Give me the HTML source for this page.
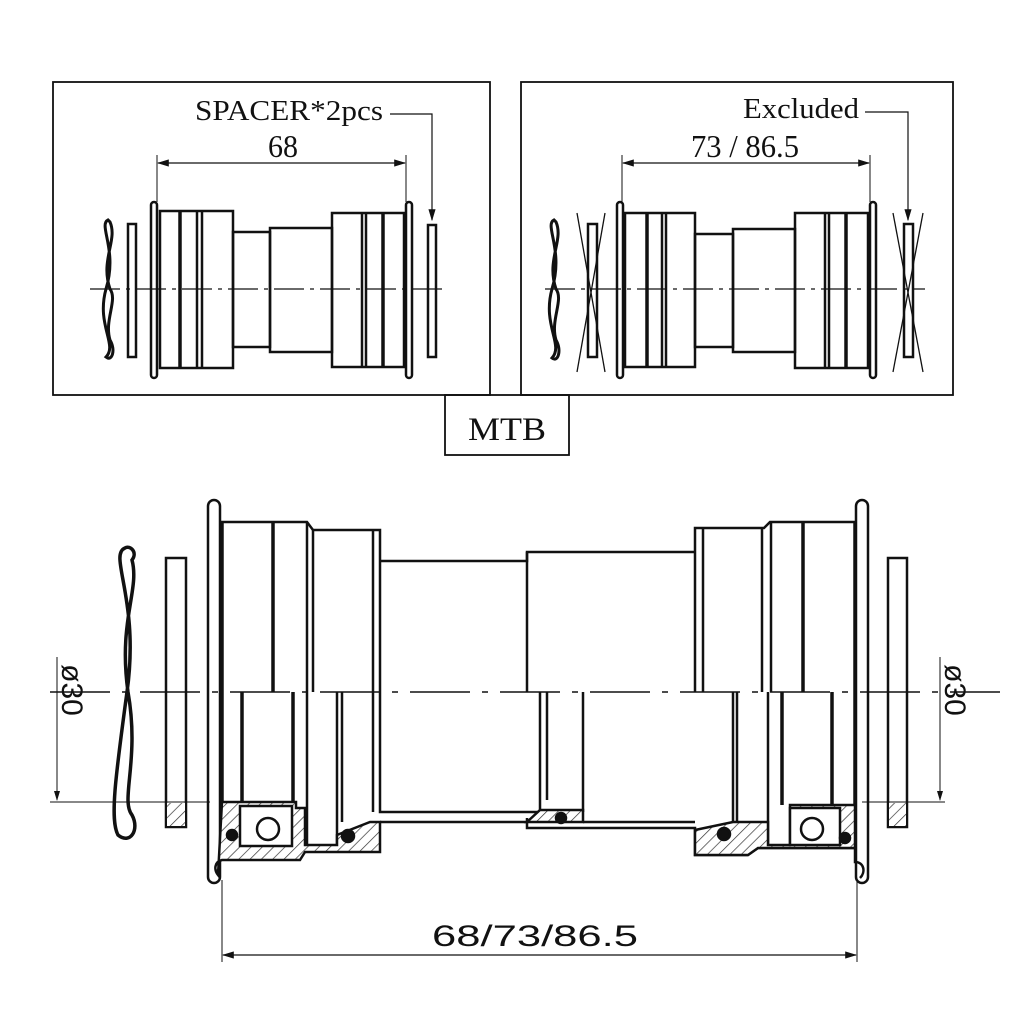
<!DOCTYPE html>
<html><head><meta charset="utf-8"><style>
html,body{margin:0;padding:0;background:#fff}
svg{display:block}
text{font-family:"Liberation Serif",serif;fill:#111}
</style></head><body>
<svg width="1024" height="1024" viewBox="0 0 1024 1024" xmlns="http://www.w3.org/2000/svg">
<defs>
<pattern id="h" width="8" height="8" patternUnits="userSpaceOnUse" patternTransform="rotate(45)">
<rect width="8" height="8" fill="#fff"/><line x1="0" y1="0" x2="0" y2="8" stroke="#333" stroke-width="1.4"/></pattern>
<marker id="a" markerWidth="10" markerHeight="6" refX="9" refY="3" orient="auto"><path d="M0,0 L10,3 L0,6 Z" fill="#111"/></marker>
</defs>
<g fill="none" stroke="#111" stroke-width="2.5">
<!-- frames -->
<rect x="53" y="82" width="437" height="313" stroke-width="1.8"/>
<rect x="521" y="82" width="432" height="313" stroke-width="1.8"/>
<rect x="445" y="395" width="124" height="60" stroke-width="1.8"/>

<!-- TOP LEFT -->
<line x1="90" y1="289" x2="448" y2="289" stroke-width="1.2" stroke-dasharray="30,6,4,6"/>
<path d="M108,220 C98,225 118,250 106,289 C96,325 118,345 106,357 C112,362 116,350 110,340 C104,320 118,300 110,289 C100,260 118,240 110,222 Z" stroke-width="3"/>
<rect x="128" y="224" width="8" height="133"/>
<rect x="428" y="225" width="8" height="132"/>
<rect x="151" y="202" width="6" height="176" rx="3"/>
<rect x="406" y="202" width="6" height="176" rx="3"/>
<rect x="160" y="211" width="73" height="157"/>
<line x1="180" y1="211" x2="180" y2="368" stroke-width="3.5"/><line x1="197" y1="211" x2="197" y2="368"/><line x1="202" y1="211" x2="202" y2="368"/>
<rect x="233" y="232" width="37" height="115"/>
<rect x="270" y="228" width="62" height="124"/>
<rect x="332" y="213" width="72" height="154"/>
<line x1="362" y1="213" x2="362" y2="367"/><line x1="366" y1="213" x2="366" y2="367"/><line x1="383" y1="213" x2="383" y2="367" stroke-width="3.5"/>
<line x1="157" y1="155" x2="157" y2="202" stroke-width="1"/><line x1="406" y1="155" x2="406" y2="202" stroke-width="1"/>
<line x1="180" y1="163" x2="158" y2="163" stroke-width="1.2" marker-end="url(#a)"/>
<line x1="180" y1="163" x2="405" y2="163" stroke-width="1.2" marker-end="url(#a)"/>
<path d="M390,114 L432,114 L432,220" stroke-width="1.2" marker-end="url(#a)"/>

<!-- TOP RIGHT -->
<line x1="545" y1="289" x2="925" y2="289" stroke-width="1.2" stroke-dasharray="30,6,4,6"/>
<path d="M554,220 C544,225 564,250 552,289 C542,325 564,345 552,358 C558,363 562,350 556,340 C550,320 564,300 556,289 C546,260 564,240 556,222 Z" stroke-width="3"/>
<rect x="588" y="224" width="9" height="133"/>
<line x1="577" y1="213" x2="605" y2="372" stroke-width="1.3"/><line x1="605" y1="213" x2="577" y2="372" stroke-width="1.3"/>
<rect x="904" y="224" width="9" height="133"/>
<line x1="893" y1="213" x2="923" y2="372" stroke-width="1.3"/><line x1="923" y1="213" x2="893" y2="372" stroke-width="1.3"/>
<rect x="617" y="202" width="6" height="176" rx="3"/>
<rect x="870" y="202" width="6" height="176" rx="3"/>
<rect x="625" y="213" width="70" height="154"/>
<line x1="647" y1="213" x2="647" y2="367" stroke-width="3.5"/><line x1="662" y1="213" x2="662" y2="367"/><line x1="666" y1="213" x2="666" y2="367"/>
<rect x="695" y="234" width="38" height="113"/>
<rect x="733" y="229" width="62" height="123"/>
<rect x="795" y="213" width="73" height="155"/>
<line x1="825" y1="213" x2="825" y2="368"/><line x1="829" y1="213" x2="829" y2="368"/><line x1="846" y1="213" x2="846" y2="368" stroke-width="3.5"/>
<line x1="622" y1="155" x2="622" y2="202" stroke-width="1"/><line x1="870" y1="155" x2="870" y2="202" stroke-width="1"/>
<line x1="640" y1="163" x2="623" y2="163" stroke-width="1.2" marker-end="url(#a)"/>
<line x1="640" y1="163" x2="869" y2="163" stroke-width="1.2" marker-end="url(#a)"/>
<path d="M865,112 L908,112 L908,220" stroke-width="1.2" marker-end="url(#a)"/>

<!-- BOTTOM -->
<line x1="50" y1="692" x2="1000" y2="692" stroke-width="1.5" stroke-dasharray="60,12,6,12"/>
<path d="M125,548 C108,555 140,600 127,692 C115,780 110,820 118,835 C130,845 140,830 132,815 C120,800 140,760 128,692 C118,620 140,590 132,560 C138,552 130,545 125,548 Z" stroke-width="3.5"/>
<rect x="166" y="558" width="20" height="269"/>
<rect x="167" y="803" width="18" height="23" fill="url(#h)" stroke="none"/>
<rect x="888" y="558" width="19" height="269"/>
<rect x="889" y="803" width="17" height="23" fill="url(#h)" stroke="none"/>
<rect x="208" y="500" width="12" height="383" rx="6"/>
<rect x="856" y="500" width="12" height="383" rx="6"/>
<path d="M220,522 L307,522 L313,530 L380,530 L380,692"/>
<line x1="222" y1="522" x2="222" y2="845" stroke-width="3.5"/>
<line x1="273" y1="522" x2="273" y2="692" stroke-width="3.5"/>
<line x1="307" y1="522" x2="307" y2="692"/><line x1="313" y1="530" x2="313" y2="692"/>
<line x1="373" y1="530" x2="373" y2="692"/>
<path d="M380,561 L527,561 L527,552 L695,552"/>
<line x1="527" y1="552" x2="527" y2="692"/>
<path d="M855,522 L770,522 L764,528 L695,528 L695,692"/>
<line x1="855" y1="522" x2="855" y2="845" stroke-width="3.5"/>
<line x1="703" y1="528" x2="703" y2="692"/>
<line x1="762" y1="528" x2="762" y2="692"/><line x1="771" y1="522" x2="771" y2="692"/>
<line x1="803" y1="522" x2="803" y2="692" stroke-width="3.5"/>
<line x1="242" y1="692" x2="242" y2="805" stroke-width="3.5"/>
<line x1="293" y1="692" x2="293" y2="805" stroke-width="3.5"/>
<line x1="307" y1="692" x2="307" y2="845"/><line x1="337" y1="692" x2="337" y2="845"/><line x1="342" y1="692" x2="342" y2="822"/>
<line x1="373" y1="692" x2="373" y2="812"/>
<path d="M380,692 L380,812 L540,812 L540,692"/>
<line x1="547" y1="692" x2="547" y2="800"/><line x1="583" y1="692" x2="583" y2="812"/>
<line x1="733" y1="692" x2="733" y2="822"/><line x1="737" y1="692" x2="737" y2="822"/>
<line x1="768" y1="692" x2="768" y2="845"/>
<line x1="782" y1="692" x2="782" y2="805" stroke-width="3.5"/>
<line x1="832" y1="692" x2="832" y2="805" stroke-width="3.5"/>
<path d="M222,802 L296,802 L296,808 L305,808 L305,845 L337,845 L337,835 L370,822 L380,822 L380,852 L305,852 L300,860 L222,860 C214,862 214,870 218,875 Z" fill="url(#h)"/>
<rect x="240" y="806" width="52" height="40" fill="#fff"/>
<circle cx="268" cy="829" r="11"/>
<circle cx="232" cy="835" r="5" fill="#111"/>
<circle cx="348" cy="836" r="6" fill="#111"/>
<line x1="380" y1="822" x2="527" y2="822"/>
<path d="M527,822 L540,810 L583,810 L583,822 Z" fill="url(#h)"/>
<circle cx="561" cy="818" r="5" fill="#111"/>
<path d="M527,818 L527,828 L695,828 L695,855 L748,855 L758,848 L855,848 L855,862 C864,862 866,872 860,878"/>
<line x1="583" y1="822" x2="695" y2="822"/>
<path d="M695,830 L733,822 L768,822 L768,845 L790,845 L790,805 L855,805 L855,848 L758,848 L748,855 L695,855 Z" fill="url(#h)"/>
<rect x="790" y="808" width="50" height="37" fill="#fff"/>
<circle cx="812" cy="829" r="11"/>
<circle cx="845" cy="838" r="5" fill="#111"/>
<circle cx="724" cy="834" r="6" fill="#111"/>
<line x1="57" y1="657" x2="57" y2="800" stroke-width="1" marker-end="url(#a)"/>
<line x1="50" y1="802" x2="210" y2="802" stroke-width="1"/>
<line x1="940" y1="657" x2="940" y2="800" stroke-width="1" marker-end="url(#a)"/>
<line x1="862" y1="802" x2="945" y2="802" stroke-width="1"/>
<line x1="222" y1="880" x2="222" y2="962" stroke-width="1"/>
<line x1="857" y1="880" x2="857" y2="962" stroke-width="1"/>
<line x1="540" y1="955" x2="223" y2="955" stroke-width="1.2" marker-end="url(#a)"/>
<line x1="540" y1="955" x2="856" y2="955" stroke-width="1.2" marker-end="url(#a)"/>
</g>
<text x="195" y="120" font-size="29" textLength="188" lengthAdjust="spacingAndGlyphs">SPACER*2pcs</text>
<text x="283" y="157" font-size="32" text-anchor="middle" textLength="30" lengthAdjust="spacingAndGlyphs">68</text>
<text x="743" y="118" font-size="29" textLength="116" lengthAdjust="spacingAndGlyphs">Excluded</text>
<text x="691" y="157" font-size="32" textLength="108" lengthAdjust="spacingAndGlyphs">73 / 86.5</text>
<text x="507" y="440" font-size="33" text-anchor="middle" textLength="78" lengthAdjust="spacingAndGlyphs">MTB</text>
<text x="432" y="946" font-size="30" textLength="206" lengthAdjust="spacingAndGlyphs" style="font-family:'Liberation Sans',sans-serif">68/73/86.5</text>
<text transform="translate(62,690) rotate(90)" font-size="30" text-anchor="middle" style="font-family:'Liberation Sans',sans-serif">ø30</text>
<text transform="translate(945,690) rotate(90)" font-size="30" text-anchor="middle" style="font-family:'Liberation Sans',sans-serif">ø30</text>
</svg>
</body></html>
